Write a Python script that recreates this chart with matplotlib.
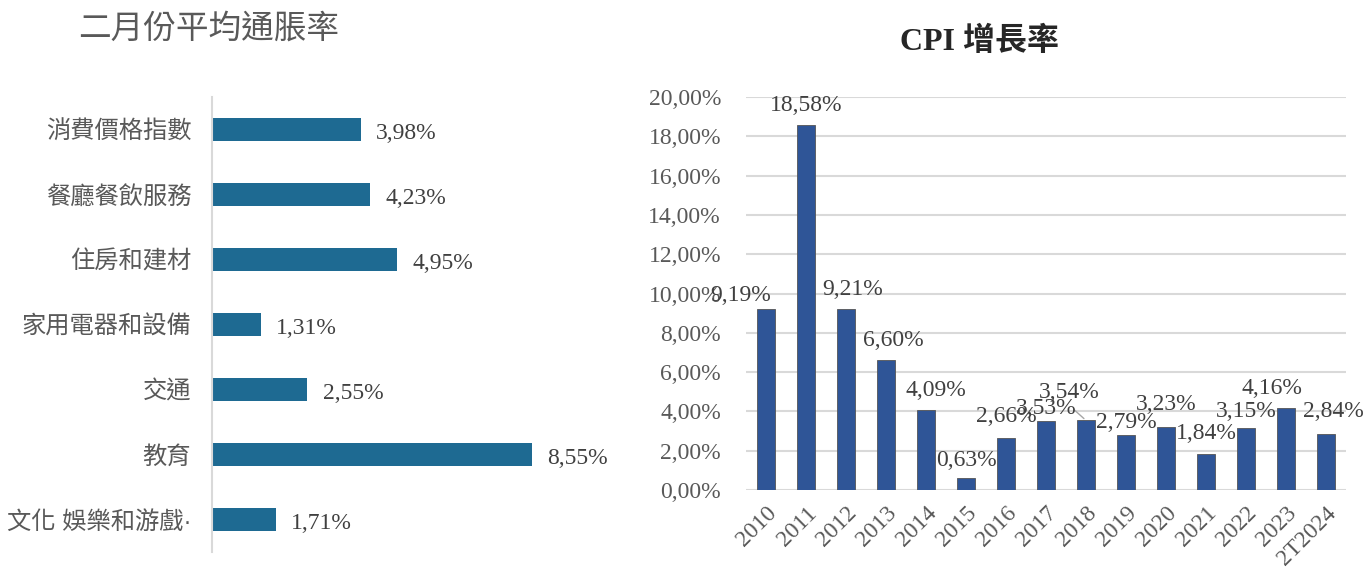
import matplotlib.pyplot as plt
from matplotlib.ticker import FuncFormatter

# left chart data
categories = ['消費價格指數', '餐廳餐飲服務', '住房和建材', '家用電器和設備',
              '交通', '教育', '文化 娛樂和游戲·']
feb_values = [3.98, 4.23, 4.95, 1.31, 2.55, 8.55, 1.71]

# right chart data
years = ['2010', '2011', '2012', '2013', '2014', '2015', '2016', '2017',
         '2018', '2019', '2020', '2021', '2022', '2023', '2T2024']
cpi_values = [9.19, 18.58, 9.21, 6.60, 4.09, 0.63, 2.66, 3.53,
              3.54, 2.79, 3.23, 1.84, 3.15, 4.16, 2.84]

# manual label nudges (points) to mimic the source layout
label_dx = [-18, 0, 5, 5, 7, 0, 0, 0, -12, 0, 0, 0, 0, -10, 5]
label_dy = [10, 14, 14, 14, 14, 12, 15, 9, 20, 9, 16, 15, 12, 14, 16]

SERIF = ['Liberation Serif', 'Noto Sans CJK TC']
CJK = ['Noto Sans CJK TC', 'DejaVu Sans']
# latin first so the space and middle dot stay narrow
LABEL_FONT = ['Liberation Sans', 'Noto Sans CJK TC']


def pct(v):
  return f'{v:.2f}'.replace('.', ',') + '%'


fig = plt.figure(figsize=(13.63, 5.72), dpi=100)
W, H = 1363, 572

# ---- left: horizontal bars ----
ax1 = fig.add_axes([212 / W, 20 / H, 374 / W, 455 / H])
ypos = list(range(len(categories)))
ax1.barh(ypos, feb_values, height=0.36, color='#1E6A92')
ax1.set_ylim(len(categories) - 0.5, -0.5)
ax1.set_xlim(0, 10)
ax1.set_yticks(ypos)
ax1.set_yticklabels(categories, family=LABEL_FONT, fontsize=17.5,
                    color='#595959')
ax1.tick_params(axis='y', length=0, pad=15)
ax1.set_xticks([])
for s in ['top', 'right', 'bottom']:
  ax1.spines[s].set_visible(False)
ax1.spines['left'].set_color('#D9D9D9')
ax1.spines['left'].set_linewidth(1.5)
for y, v in zip(ypos, feb_values):
  ax1.annotate(pct(v), (v, y), xytext=(11, -1), textcoords='offset points',
               ha='left', va='center_baseline', family=SERIF, fontsize=17,
               color='#404040', annotation_clip=False)

fig.text(209 / W, 1 - 29 / H, '二月份平均通脹率', ha='center', va='center',
         family=CJK, fontsize=23.5, color='#595959')

# ---- right: CPI vertical bars ----
ax2 = fig.add_axes([746 / W, 82 / H, 600 / W, 393 / H])
xpos = list(range(len(years)))
ax2.bar(xpos, cpi_values, width=0.44, color='#2F5597',
        edgecolor='#555555', linewidth=0.6, zorder=3)
ax2.set_xlim(-0.5, len(years) - 0.5)
ax2.set_ylim(0, 20)
ax2.set_yticks(range(0, 21, 2))
ax2.yaxis.set_major_formatter(FuncFormatter(lambda v, p: pct(v)))
ax2.grid(axis='y', color='#D9D9D9', linewidth=1.5, zorder=0)
ax2.set_xticks(xpos)
ax2.set_xticklabels(years, rotation=45, ha='right', rotation_mode='anchor')
ax2.tick_params(axis='both', length=0, labelsize=17, labelcolor='#595959')
ax2.tick_params(axis='y', pad=18)
ax2.tick_params(axis='x', pad=9)
for lab in ax2.get_xticklabels() + ax2.get_yticklabels():
  lab.set_family(SERIF)
for s in ['top', 'right', 'left', 'bottom']:
  ax2.spines[s].set_visible(False)

for i, v in enumerate(cpi_values):
  ax2.annotate(pct(v), (i, v), xytext=(label_dx[i], label_dy[i]),
               textcoords='offset points', ha='center', va='center',
               family=SERIF, fontsize=17, color='#404040',
               annotation_clip=False, zorder=4)
# leader line for the crowded 2018 label
ax2.annotate('', (8, cpi_values[8]), xytext=(-10, 9), textcoords='offset points',
             arrowprops=dict(arrowstyle='-', color='#A6A6A6', lw=1))

fig.text(980 / W, 1 - 42 / H, 'CPI 增長率', ha='center', va='center',
         family=SERIF, fontsize=23, fontweight='bold', color='#262626')

fig.savefig('out.png', dpi=100)
